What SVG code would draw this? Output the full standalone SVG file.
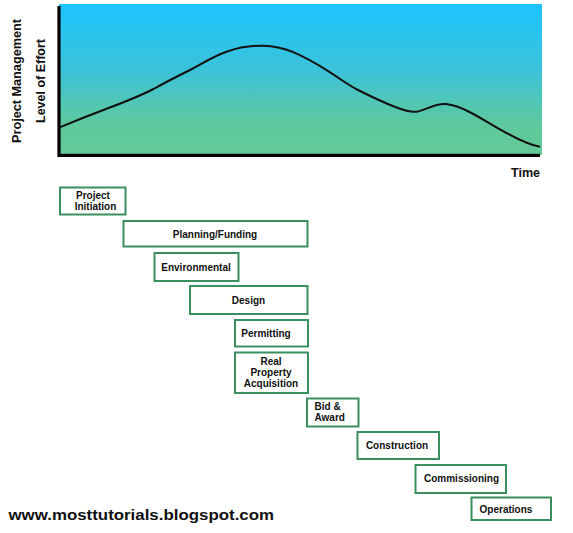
<svg xmlns="http://www.w3.org/2000/svg" width="573" height="533" viewBox="0 0 573 533">
<style>
.box{fill:#fff;stroke:#3b8f5f;stroke-width:2}
.lbl{font-family:"Liberation Sans",Arial,sans-serif;font-weight:bold;font-size:10px;fill:#111}
.ax{font-family:"Liberation Sans",Arial,sans-serif;font-weight:bold;font-size:12.5px;fill:#111}
</style>
<defs>
<linearGradient id="bg" x1="0" y1="0" x2="0" y2="1">
<stop offset="0" stop-color="#1cc4fd"/>
<stop offset="0.45" stop-color="#3dc2d8"/>
<stop offset="0.8" stop-color="#5ec99c"/>
<stop offset="1" stop-color="#62ca96"/>
</linearGradient>
</defs>
<rect width="573" height="533" fill="#fff"/>
<g id="chart">
<rect x="59" y="4" width="483" height="151" fill="url(#bg)"/>
<path d="M59,127.7 C75,121 90,115 106,109 C122,103 138,97 153.5,89 C166,82 178,76 190,70 C203,63 214,56 226.6,51.7 C240,47 252,45.5 263,45.7 C274,46 283,48 292,51.7 C305,57 317,64 329,71.7 C339,78 348,85 358,90 C370,96 382,102 394.7,106.7 C403,110 410,112.5 416.7,111.7 C425,110.5 435,103 446,104 C456,105 464,109 471.5,113 C483,119 493,126 504,131.7 C516,138 528,145 540,146.7" fill="none" stroke="#111" stroke-width="2"/>
<path d="M59,6 V155.3 H540" fill="none" stroke="#000" stroke-width="3.2"/>
<text class="ax" transform="translate(21.3,81) rotate(-90)" text-anchor="middle" textLength="124" lengthAdjust="spacingAndGlyphs">Project Management</text>
<text class="ax" transform="translate(44.5,81) rotate(-90)" text-anchor="middle" textLength="84" lengthAdjust="spacingAndGlyphs">Level of Effort</text>
<text class="ax" x="511" y="177" font-size="12">Time</text>
</g>
<g id="connectors"></g>
<g id="project-initiation">
<rect class="box" x="60" y="187.5" width="65.5" height="27"/>
<text class="lbl" x="93" y="199" text-anchor="middle">Project</text>
<text class="lbl" x="95.5" y="209.5" text-anchor="middle">Initiation</text>
</g>
<g id="planning-funding">
<rect class="box" x="123.5" y="221" width="184" height="25.5"/>
<text class="lbl" x="215" y="237.5" text-anchor="middle">Planning/Funding</text>
</g>
<g id="environmental">
<rect class="box" x="154.5" y="253" width="84" height="28"/>
<text class="lbl" x="196" y="270.5" text-anchor="middle">Environmental</text>
</g>
<g id="design">
<rect class="box" x="190" y="286" width="117.5" height="28"/>
<text class="lbl" x="248.5" y="303.5" text-anchor="middle">Design</text>
</g>
<g id="permitting">
<rect class="box" x="235" y="320" width="73" height="26.5"/>
<text class="lbl" x="266" y="337" text-anchor="middle">Permitting</text>
</g>
<g id="real-property-acquisition">
<rect class="box" x="235" y="352.5" width="73" height="40.5"/>
<text class="lbl" x="271" y="364.5" text-anchor="middle">Real</text>
<text class="lbl" x="271" y="376" text-anchor="middle">Property</text>
<text class="lbl" x="271" y="387" text-anchor="middle">Acquisition</text>
</g>
<g id="bid-award">
<rect class="box" x="307" y="398.5" width="51.5" height="28"/>
<text class="lbl" x="314.5" y="409.5">Bid &amp;</text>
<text class="lbl" x="314.5" y="421">Award</text>
</g>
<g id="construction">
<rect class="box" x="357.5" y="432" width="81.5" height="27"/>
<text class="lbl" x="397" y="448.5" text-anchor="middle">Construction</text>
</g>
<g id="commissioning">
<rect class="box" x="415.5" y="465" width="90.5" height="28"/>
<text class="lbl" x="461.5" y="482" text-anchor="middle">Commissioning</text>
</g>
<g id="operations">
<rect class="box" x="471.5" y="497.5" width="79.5" height="22.5"/>
<text class="lbl" x="506" y="512.5" text-anchor="middle">Operations</text>
</g>
<text x="8.5" y="520" font-family="'Liberation Sans',Arial,sans-serif" font-weight="bold" font-size="15" fill="#111" textLength="265.5" lengthAdjust="spacingAndGlyphs">www.mosttutorials.blogspot.com</text>
</svg>
